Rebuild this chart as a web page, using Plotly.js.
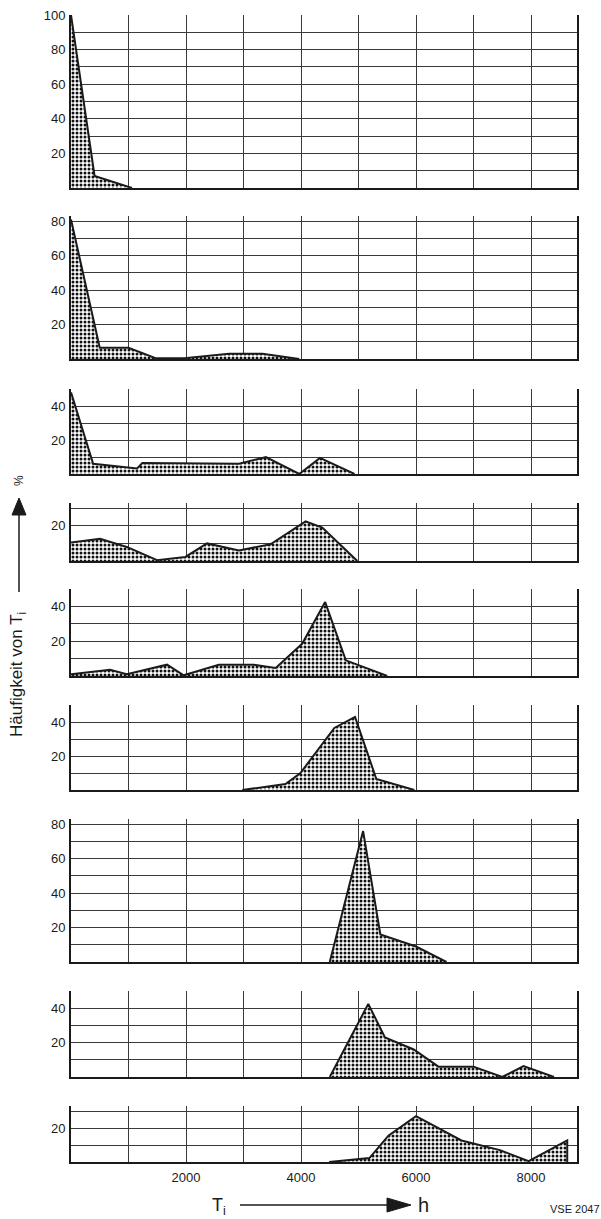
<!DOCTYPE html>
<html>
<head>
<meta charset="utf-8">
<script src="https://cdn.plot.ly/plotly-3.0.1.min.js"></script>
<style>
  body { margin: 0; background: white; }
  #chart { width: 601px; height: 1219px; }
</style>
</head>
<body>
<div id="chart"></div>
<script>
// Häufigkeit von T_i (%) per panel
var hours1 = [0, 410, 1060];
var freq1  = [100, 7, 0];

var hours2 = [0, 500, 1000, 1470, 1970, 2500, 2750, 3330, 3970];
var freq2  = [81, 6.5, 6.5, 0.5, 0.5, 2, 3, 3, 0];

var hours3 = [0, 385, 1150, 1240, 2920, 3390, 3970, 4330, 4930];
var freq3  = [48, 6, 3.3, 6.5, 6, 10, 0, 9.5, 0];

var hours4 = [0, 505, 970, 1495, 1990, 2365, 2920, 3470, 4080, 4370, 4980];
var freq4  = [10.5, 12.7, 8, 0.5, 2.3, 10, 6, 9.5, 22.5, 19, 0];

var hours5 = [0, 680, 970, 1670, 1960, 2570, 3180, 3560, 4020, 4420, 4780, 5500];
var freq5  = [1, 3.6, 1, 6.5, 0.4, 6.5, 6.5, 4.6, 18.5, 42.5, 9, 0];

var hours6 = [2980, 3730, 3990, 4580, 4940, 5310, 5970];
var freq6  = [0, 3.5, 10, 36.5, 43, 6.5, 0];

var hours7 = [4500, 5080, 5380, 6000, 6530];
var freq7  = [0, 76, 16, 9, 0];

var hours8 = [4500, 5170, 5460, 5960, 6390, 7000, 7500, 7870, 8400];
var freq8  = [0, 42.5, 23, 16, 6, 6, 0, 6.3, 0];

var hours9 = [4490, 5190, 5520, 6000, 6790, 7460, 7960, 8630, 8630];
var freq9  = [0, 2.3, 15.5, 27, 12.7, 7, 0.5, 12.7, 0];

var yTops = [100, 83, 50, 33, 50, 50, 83, 50, 33];
var xTicks = [2000, 4000, 6000, 8000];
var xMinor = [1000, 3000, 5000, 7000];

var allHours = [hours1, hours2, hours3, hours4, hours5, hours6, hours7, hours8, hours9];
var allFreq = [freq1, freq2, freq3, freq4, freq5, freq6, freq7, freq8, freq9];

// panel frames in page pixels (top, bottom)
var panelPx = [[15, 188], [216, 359], [389, 474], [503, 561], [589, 676],
               [705, 790], [819, 962], [991, 1077], [1106, 1162]];

var mL = 71, mR = 24, mT = 15, mB = 57, W = 601, H = 1219;
var plotW = W - mL - mR, plotH = H - mT - mB;
function px(x) { return (x - mL) / plotW; }
function py(y) { return (H - mB - y) / plotH; }

var ink = '#1a1a1a';
var grid = '#3a3a3a';
var sans = 'Liberation Sans, Arial, sans-serif';
var tickFont = { family: sans, size: 13, color: ink };

var data = [];
var layout = {
    width: W,
    height: H,
    margin: { l: mL, r: mR, t: mT, b: mB },
    paper_bgcolor: 'white',
    plot_bgcolor: 'white',
    showlegend: false,
    font: tickFont,
    annotations: [],
    shapes: []
};

for (var i = 0; i < 9; i++) {
    var n = i + 1;
    var xa = 'x' + (n == 1 ? '' : n);
    var ya = 'y' + (n == 1 ? '' : n);

    data.push({
        x: allHours[i],
        y: allFreq[i],
        xaxis: xa,
        yaxis: ya,
        type: 'scatter',
        mode: 'lines',
        fill: 'tozeroy',
        fillcolor: 'white',
        fillpattern: { shape: '.', size: 4, solidity: 0.45, fgcolor: '#111', bgcolor: 'white' },
        line: { color: ink, width: 2 },
        hoverinfo: 'skip'
    });

    var yMajor = [], yMin = [];
    for (var v = 10; v <= yTops[i]; v += 10) {
        if (v % 20 == 0) yMajor.push(v); else yMin.push(v);
    }

    layout['xaxis' + (n == 1 ? '' : n)] = {
        domain: [0, 1],
        anchor: ya,
        range: [0, 8800],
        tickmode: 'array',
        tickvals: xTicks,
        showticklabels: n == 9,
        ticks: '',
        ticklabelstandoff: 2,
        showgrid: true,
        gridcolor: grid,
        gridwidth: 1,
        minor: { tickmode: 'array', tickvals: xMinor, showgrid: true, gridcolor: grid, gridwidth: 1, ticks: '' },
        zeroline: false,
        showline: true,
        linecolor: ink,
        linewidth: 2,
        mirror: false,
        tickfont: tickFont,
        fixedrange: true
    };

    layout['yaxis' + (n == 1 ? '' : n)] = {
        domain: [py(panelPx[i][1]), py(panelPx[i][0])],
        anchor: xa,
        range: [0, yTops[i]],
        tickmode: 'array',
        tickvals: yMajor,
        ticks: '',
        ticklabelstandoff: 1,
        showgrid: true,
        gridcolor: grid,
        gridwidth: 1,
        minor: { tickmode: 'array', tickvals: yMin, showgrid: true, gridcolor: grid, gridwidth: 1, ticks: '' },
        zeroline: false,
        showline: true,
        linecolor: ink,
        linewidth: 2,
        mirror: true,
        tickfont: tickFont,
        fixedrange: true
    };
}

// y title with arrow
layout.annotations.push({
    xref: 'paper', yref: 'paper', x: px(18), y: py(675),
    xanchor: 'center', yanchor: 'middle',
    text: 'Häufigkeit von T<sub>i</sub>', textangle: -90, showarrow: false,
    font: { family: sans, size: 17, color: ink }
});
layout.annotations.push({
    xref: 'paper', yref: 'paper', x: px(19), y: py(481),
    xanchor: 'center', yanchor: 'middle',
    text: '%', textangle: -90, showarrow: false,
    font: { family: sans, size: 12, color: ink }
});
layout.shapes.push({
    type: 'line', xref: 'paper', yref: 'paper',
    x0: px(19), x1: px(19), y0: py(592), y1: py(512),
    line: { color: ink, width: 1.5 }
});
layout.shapes.push({
    type: 'path', xref: 'paper', yref: 'paper',
    path: 'M ' + px(19) + ' ' + py(498) + ' L ' + px(12) + ' ' + py(515) +
          ' L ' + px(26) + ' ' + py(515) + ' Z',
    fillcolor: ink, line: { color: ink, width: 1 }
});

// x title with arrow
layout.annotations.push({
    xref: 'paper', yref: 'paper', x: px(219), y: py(1206),
    xanchor: 'center', yanchor: 'middle',
    text: 'T<sub>i</sub>', showarrow: false,
    font: { family: sans, size: 18, color: ink }
});
layout.annotations.push({
    xref: 'paper', yref: 'paper', x: px(423), y: py(1205),
    xanchor: 'center', yanchor: 'middle',
    text: 'h', showarrow: false,
    font: { family: sans, size: 20, color: ink }
});
layout.shapes.push({
    type: 'line', xref: 'paper', yref: 'paper',
    x0: px(240), x1: px(390), y0: py(1205), y1: py(1205),
    line: { color: ink, width: 1.5 }
});
layout.shapes.push({
    type: 'path', xref: 'paper', yref: 'paper',
    path: 'M ' + px(411) + ' ' + py(1205) + ' L ' + px(387) + ' ' + py(1198) +
          ' L ' + px(387) + ' ' + py(1212) + ' Z',
    fillcolor: ink, line: { color: ink, width: 1 }
});
layout.annotations.push({
    xref: 'paper', yref: 'paper', x: px(575), y: py(1209),
    xanchor: 'center', yanchor: 'middle',
    text: 'VSE 2047', showarrow: false,
    font: { family: 'Liberation Sans Narrow, Arial Narrow, sans-serif', size: 11, color: ink }
});

//Create the chart
Plotly.newPlot('chart', data, layout, { staticPlot: true, displayModeBar: false });
</script>
</body>
</html>
